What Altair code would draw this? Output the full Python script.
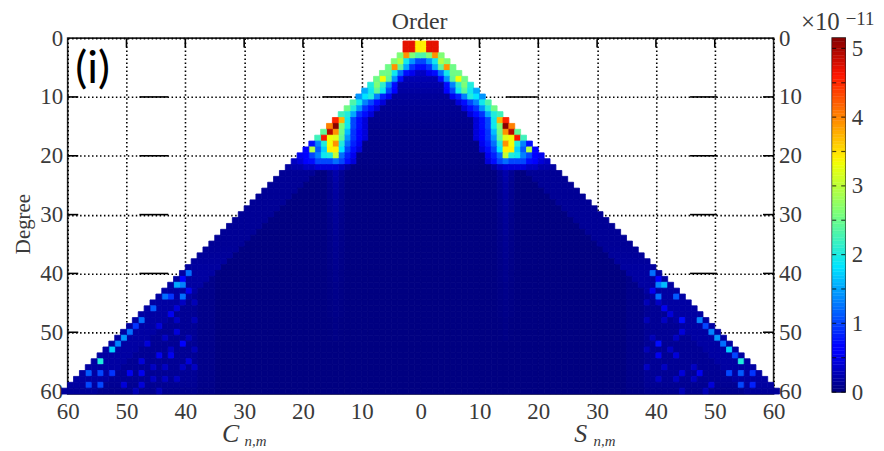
import altair as alt
import pandas as pd

SERIF = "Liberation Serif"
INK = "#3a3a3a"
TICKS = list(range(-60, 61, 10))
DEGREES = list(range(0, 61, 10))
CB_TOP = 5.15

# values are in units of 1e-11, listed from the outer edge of a row (m = n) inwards
UPPER_ROWS = {
    1: [4.7, 4.7, 3.4], 2: [4.7, 4.7, 3.4],
    3: [2.6, 3.9, 2.6, 2.3],
    4: [2.6, 2.9, 1.9, 1.4, 1.0],
    5: [2.5, 3.9, 2.4, 1.5, 0.9, 0.7],
    6: [2.5, 2.5, 1.9, 1.2, 0.7, 0.5],
    7: [2.5, 3.3, 2.4, 1.4, 0.7],
    8: [2.0, 2.6, 2.1, 1.3, 0.7],
    9: [1.5, 1.9, 2.4, 1.9, 1.0, 0.6],
    10: [1.4, 1.8, 2.0, 1.3, 0.8, 0.5],
    11: [2.3, 1.9, 1.3, 1.0, 0.7, 0.4],
    12: [2.5, 2.0, 1.4, 0.9, 0.7, 0.4],
    13: [2.2, 2.0, 1.5, 0.9, 0.7, 0.4],
    14: [4.5, 3.7, 1.9, 1.0, 0.7, 0.4],
    15: [4.0, 5.1, 2.6, 1.9, 1.0, 0.7, 0.4],
    16: [2.4, 4.9, 3.9, 2.5, 1.6, 0.9, 0.6, 0.4],
    17: [2.2, 4.6, 3.3, 3.2, 2.4, 1.4, 0.9, 0.6, 0.4],
    18: [0.7, 1.3, 2.0, 3.3, 3.9, 2.0, 1.2, 0.8, 0.5],
    19: [0.6, 2.9, 1.1, 1.7, 3.4, 3.4, 1.8, 1.0, 0.7, 0.4],
    20: [0.5, 0.6, 1.0, 1.3, 1.9, 2.0, 3.0, 1.2, 0.8, 0.5],
    21: [0.3, 0.4, 0.6, 0.7, 1.0, 1.0, 1.0, 1.2, 1.0, 0.7, 0.4],
    22: [0.15, 0.2, 0.2, 0.3, 0.3, 0.4, 0.4, 0.4, 0.4, 0.3, 0.15],
}
# background of each row's interior, rows 1..22 then the long lower part
INNER_UPPER = [0.9, 0.9, 0.9, 0.7, 0.5, 0.3, 0.22, 0.18, 0.15, 0.12, 0.1, 0.09, 0.08, 0.07,
               0.06, 0.05, 0.05, 0.04, 0.04, 0.03, 0.03, 0.02]
EDGE_TONE = [0.1, 0.1, 0.1, 0.1, 0.1, 0.1, 0.1, 0.1, 0.1, 0.1, 0.1, 0.1, 0.1, 0.11, 0.12,
             0.13, 0.14, 0.15, 0.15, 0.15, 0.16, 0.16, 0.16, 0.16, 0.16, 0.16, 0.16, 0.16, 0.16, 0.16,
             0.16, 0.16, 0.16, 0.16, 0.16, 0.16, 0.15, 0.12]
STREAK_ROWS = list(range(23, 52))
STREAK_VALS = [0.2, 0.18, 0.16, 0.15, 0.14, 0.13, 0.12, 0.12, 0.11, 0.1, 0.1, 0.09, 0.09, 0.08, 0.08,
               0.07, 0.07, 0.06, 0.06, 0.05, 0.05, 0.05, 0.04, 0.04, 0.04, 0.03, 0.03, 0.03, 0.03]

# (degree, order, value)
SPOTS_C = [(40, 39, 1.2), (42, 41, 1.5), (42, 40, 1.3), (44, 40, 1.2), (44, 43, 1.2), (44, 42, 0.9),
           (46, 45, 1.1), (48, 47, 1.2), (49, 48, 0.9), (50, 49, 1.2), (51, 50, 1.4), (52, 51, 1.3),
           (53, 52, 1.7), (55, 54, 2.0), (57, 56, 1.1), (57, 54, 1.0), (57, 52, 0.9), (59, 56, 1.0),
           (59, 54, 1.0), (52, 40, 0.6), (54, 42, 0.5), (54, 44, 0.5), (57, 47, 0.5), (57, 49, 0.5),
           (47, 42, 0.5), (50, 41, 0.4), (55, 39, 0.4), (59, 50, 0.4), (59, 47, 0.4), (49, 44, 0.4),
           (46, 41, 0.4), (41, 40, 0.6), (43, 39, 0.5), (52, 46, 0.4), (55, 47, 0.4),
           (56, 38, 0.3), (56, 40, 0.3), (56, 43, 0.3), (56, 45, 0.3), (58, 41, 0.3), (58, 43, 0.3),
           (58, 45, 0.3), (53, 38, 0.25), (53, 42, 0.3), (51, 43, 0.3), (51, 39, 0.25), (48, 38, 0.25),
           (48, 41, 0.3), (45, 38, 0.25), (45, 40, 0.3), (60, 48, 0.25), (60, 44, 0.25)]
SPOTS_S = [(40, 39, 1.2), (42, 40, 1.3), (42, 41, 1.6), (44, 40, 1.2), (44, 43, 1.1), (48, 47, 1.3),
           (49, 48, 1.0), (50, 49, 1.3), (51, 50, 1.4), (52, 51, 1.2), (53, 52, 1.7), (54, 53, 1.0),
           (55, 54, 2.0), (57, 52, 1.0), (57, 54, 1.1), (57, 56, 0.9), (59, 54, 1.0), (59, 56, 0.8),
           (52, 40, 0.7), (54, 40, 0.5), (48, 44, 0.7), (46, 41, 0.5), (50, 44, 0.4), (57, 47, 0.5),
           (57, 44, 0.4), (54, 43, 0.4), (59, 49, 0.4), (41, 40, 0.6), (43, 39, 0.5), (47, 42, 0.4),
           (56, 38, 0.3), (56, 41, 0.3), (56, 46, 0.3), (58, 40, 0.3), (58, 43, 0.3), (58, 46, 0.3),
           (53, 38, 0.25), (53, 42, 0.3), (51, 43, 0.3), (51, 39, 0.25), (48, 38, 0.25), (48, 41, 0.3),
           (45, 38, 0.25), (45, 40, 0.3), (60, 48, 0.25), (60, 44, 0.25)]

SOLID_SPANS = [(-60, -58.2), (-47.8, -42.9), (-16.7, -11.7), (14.5, 19.9), (45.8, 50.4), (58.2, 60)]
SOLID_LEVELS = [10, 20, 30, 40, 50]
CB_MINOR = [0, 0.5, 1, 1.5, 2, 2.5, 3, 3.5, 4, 4.5, 5]
JET_AT = [0, 0.11, 0.125, 0.35, 0.5, 0.64, 0.66, 0.89, 1]
JET_COLORS = ["#00007f", "#0000ff", "#0000ff", "#00e5ff", "#7aff7a", "#f0ff05", "#ffee00", "#ff1500", "#7f0000"]


def build_cells(sign, spots):
    lookup = {(d, o): v for d, o, v in spots}
    streak = dict(zip(STREAK_ROWS, STREAK_VALS))
    rows = []
    for n in range(1, 61):
        top = 2 if n <= 2 else n
        for m in range(0, top + 1):
            if n <= 22:
                edge = UPPER_ROWS[n]
                idx = top - m
                val = edge[idx] if idx < len(edge) else INNER_UPPER[n - 1]
            else:
                val = 0.01
                tone = EDGE_TONE[n - 23]
                if m >= n - 5:
                    val = tone
                elif n >= 38 and m >= 38:
                    val = tone * 0.6
                elif n >= 38 and m >= 35:
                    val = tone * 0.3
                if n in streak and m in (13, 14, 15):
                    val = max(val, streak[n] * (1 if m == 14 else 0.5))
            val = lookup.get((n, m), val)
            lo, hi = (m, m + 1) if sign > 0 else (-m - 1, -m)
            rows.append({"x": lo, "x2": hi, "y": n - 0.5, "y2": n + 0.5, "v": val})
    return rows


cells = pd.DataFrame(build_cells(-1, SPOTS_C) + build_cells(1, SPOTS_S))
jet = alt.Scale(domain=[f * CB_TOP for f in JET_AT], range=JET_COLORS, interpolate="rgb")
xscale = alt.Scale(domain=[-60, 60], nice=False, zero=False)
yscale = alt.Scale(domain=[60.5, 0], nice=False, zero=False)
dotted = [1.5, 2.5]
xaxis = alt.Axis(values=TICKS, labelExpr="abs(datum.value)", title=None, grid=True, gridDash=dotted,
                 gridColor="black", gridWidth=1.6, gridOpacity=1, ticks=False, domain=False, labelFont=SERIF,
                 labelFontSize=23, labelColor=INK, labelPadding=7, labelFlush=False, labelOverlap=False)
yleft = alt.Axis(values=DEGREES, title=None, grid=True, gridDash=dotted, gridColor="black", gridWidth=1.6,
                 gridOpacity=1, ticks=False, domain=False, labelFont=SERIF, labelFontSize=23, labelColor=INK,
                 labelPadding=5, labelFlush=False, labelOverlap=False, orient="left")
yright = alt.Axis(values=DEGREES, title=None, grid=False, ticks=False, domain=False, labelFont=SERIF,
                  labelFontSize=23, labelColor=INK, labelPadding=5, labelFlush=False, labelOverlap=False,
                  orient="right")

solid = pd.DataFrame([{"x": a, "x2": b, "y": lv} for lv in SOLID_LEVELS for a, b in SOLID_SPANS])
seg = alt.Chart(solid).mark_rule(color="black", strokeWidth=1.6).encode(
    x=alt.X("x:Q", scale=xscale, axis=xaxis), x2="x2:Q", y=alt.Y("y:Q", scale=yscale, axis=yleft))
tick_df = pd.DataFrame({"x": [t for t in TICKS if abs(t) < 60], "y": 0.2, "y2": 1.6})
top_ticks = alt.Chart(tick_df).mark_rule(color="black", strokeWidth=1.6).encode(
    x=alt.X("x:Q", scale=xscale, axis=xaxis), y=alt.Y("y:Q", scale=yscale, axis=yright), y2="y2:Q")
heat = alt.Chart(cells).mark_rect(strokeWidth=0.8).encode(
    x=alt.X("x:Q", scale=xscale, axis=xaxis), x2="x2:Q",
    y=alt.Y("y:Q", scale=yscale, axis=None), y2="y2:Q",
    color=alt.Color("v:Q", scale=jet, legend=None),
    stroke=alt.Stroke("v:Q", scale=jet, legend=None))


def label(text, px, py, size, font=SERIF, color=INK, **kw):
    return alt.Chart(pd.DataFrame({"t": [text]})).mark_text(
        font=font, fontSize=size, color=color, **kw).encode(
        text="t:N", x=alt.value(px), y=alt.value(py))


main = alt.layer(
    seg, top_ticks, heat,
    label("Order", 354, -16, 24),
    label("Degree", -44, 187, 21, angle=270),
    label("(i)", 25, 31, 45, font="Lato", color="black"),
    label("C", 164, 398, 26, fontStyle="italic"),
    label("n,m", 189, 405, 15, fontStyle="italic"),
    label("S", 516, 398, 26, fontStyle="italic"),
    label("n,m", 540, 405, 15, fontStyle="italic"),
).resolve_scale(y="independent").properties(width=710, height=358, view=alt.ViewConfig(stroke="#222222", strokeWidth=1.6))

levels = [round(i * 0.05, 2) for i in range(0, 103)]
bar = pd.DataFrame({"a": levels, "b": [round(v + 0.05, 2) for v in levels], "v": levels})
cbscale = alt.Scale(domain=[0, CB_TOP], nice=False, zero=False)
cb_axis = alt.Axis(values=[0, 1, 2, 3, 4, 5], title=None, ticks=False, domain=False,
                   grid=False, orient="right", labelFont=SERIF, labelFontSize=23, labelColor=INK, labelPadding=6)
cb_rect = alt.Chart(bar).mark_rect(strokeWidth=0.4).encode(
    y=alt.Y("a:Q", scale=cbscale, axis=cb_axis),
    y2="b:Q",
    color=alt.Color("v:Q", scale=jet, legend=None),
    stroke=alt.Stroke("v:Q", scale=jet, legend=None))
minor = pd.DataFrame({"v": CB_MINOR})
cb_left = alt.Chart(minor).mark_tick(color="black", orient="horizontal", thickness=1.2, width=4).encode(
    y=alt.Y("v:Q", scale=cbscale, axis=cb_axis), x=alt.value(2))
cb_right = alt.Chart(minor).mark_tick(color="black", orient="horizontal", thickness=1.2, width=4).encode(
    y=alt.Y("v:Q", scale=cbscale, axis=cb_axis), x=alt.value(11))
cbar = alt.layer(
    cb_rect, cb_left, cb_right,
    label("×10", -12, -16, 25),
    label("−11", 28, -19, 19),
).properties(width=13, height=356, view=alt.ViewConfig(stroke="#222222", strokeWidth=1.6))

chart = alt.hconcat(main, cbar, spacing=59, bounds="flush").configure_view(stroke="#222222", strokeWidth=1.6)
chart = chart.properties(background="white", padding={"left": 4, "top": 0, "right": 0, "bottom": 0})
chart.save("out.html", embed_options={"renderer": "svg", "actions": False})
